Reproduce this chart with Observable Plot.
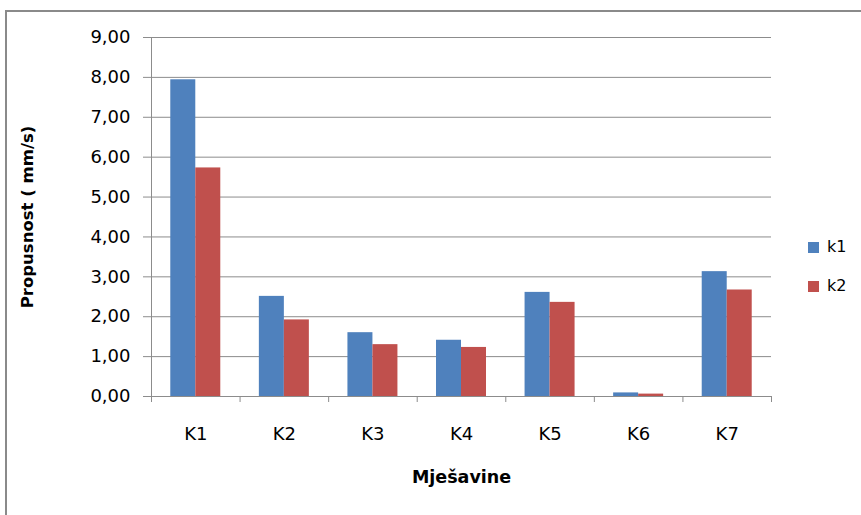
<!DOCTYPE html>
<html>
<head>
<meta charset="utf-8">
<script src="https://cdn.jsdelivr.net/npm/d3@7"></script>
<script src="https://cdn.jsdelivr.net/npm/@observablehq/plot@0.6"></script>
<style>
  html, body { margin: 0; padding: 0; background: #ffffff; }
  #wrap { position: relative; width: 861px; height: 515px; overflow: hidden; background: #fff;
          font-family: "DejaVu Sans", sans-serif; color: #000; }
  #border { position: absolute; left: 5px; top: 10px; width: 1000px; height: 1000px;
            border-left: 2px solid #8a8a8a; border-top: 2px solid #8a8a8a; }
  #chart { position: absolute; left: 0; top: 0; }
  .legend { position: absolute; left: 808px; font-size: 16px; line-height: 16px; display: flex; align-items: center; }
  .legend .sw { width: 11px; height: 11px; margin-right: 8px; }
</style>
</head>
<body>
<div id="wrap">
  <div id="border"></div>
  <div id="chart"></div>
  <div id="legend"></div>
</div>
<script>
const categories = ["K1", "K2", "K3", "K4", "K5", "K6", "K7"];
const seriesNames = ["k1", "k2"];
const k1Values = [7.94, 2.51, 1.60, 1.41, 2.61, 0.09, 3.13];
const k2Values = [5.73, 1.92, 1.30, 1.23, 2.36, 0.06, 2.67];
const yTicks = [0, 1, 2, 3, 4, 5, 6, 7, 8, 9];
const seriesColors = ["#4F81BD", "#C0504D"];
const xTitle = "Mješavine";
const yTitle = "Propusnost ( mm/s)";

const W = 861, H = 515, mL = 151, mR = 90, mT = 37, mB = 119;
const step = (W - mL - mR) / categories.length;
const barW = 25;
const gray = "#8c8c8c";

const table = categories.map((c, i) => ({cat: c, k1: k1Values[i], k2: k2Values[i]}));
const fmt = d => d.toFixed(2).replace(".", ",");

const plot = Plot.plot({
  width: W, height: H,
  marginLeft: mL, marginRight: mR, marginTop: mT, marginBottom: mB,
  style: {fontFamily: "DejaVu Sans, sans-serif", background: "transparent", overflow: "visible"},
  x: {domain: categories, padding: 0, round: false},
  y: {domain: [0, 9]},
  marks: [
    Plot.gridY(yTicks, {stroke: gray, strokeOpacity: 1, strokeWidth: 1}),
    Plot.barY(table, {x: "cat", y: "k1", fill: seriesColors[0], insetLeft: step / 2 - barW, insetRight: step / 2}),
    Plot.barY(table, {x: "cat", y: "k2", fill: seriesColors[1], insetLeft: step / 2, insetRight: step / 2 - barW}),
    Plot.ruleY([0], {stroke: gray, strokeWidth: 1}),
    Plot.ruleX([categories[0]], {x: d => d, dx: -step / 2, stroke: gray, strokeWidth: 1}),
    Plot.ruleX(categories, {x: d => d, y1: 0, y2: 0, dx: -step / 2, insetBottom: -6, stroke: gray}),
    Plot.ruleX([categories[categories.length - 1]], {x: d => d, y1: 0, y2: 0, dx: step / 2, insetBottom: -6, stroke: gray}),
    Plot.axisY(yTicks, {tickSize: 8, tickPadding: 13, tickFormat: fmt, fontSize: 18, stroke: gray, label: null, color: "#000"}),
    Plot.axisX({tickSize: 0, tickPadding: 31, fontSize: 18, label: null}),
    Plot.text([yTitle], {text: d => d, frameAnchor: "left", dx: -124, rotate: -90, textAnchor: "middle", fontWeight: "bold", fontSize: 16.5, fill: "#000"}),
    Plot.text([xTitle], {text: d => d, frameAnchor: "bottom", dy: 86, fontWeight: "bold", fontSize: 17.5, fill: "#000"})
  ]
});
document.getElementById("chart").appendChild(plot);

const legend = document.getElementById("legend");
const legendTops = [239, 278];
seriesNames.forEach((name, i) => {
  const row = document.createElement("div");
  row.className = "legend";
  row.style.top = legendTops[i] + "px";
  const sw = document.createElement("span");
  sw.className = "sw";
  sw.style.background = seriesColors[i];
  const t = document.createElement("span");
  t.textContent = name;
  row.appendChild(sw); row.appendChild(t);
  legend.appendChild(row);
});
</script>
</body>
</html>
